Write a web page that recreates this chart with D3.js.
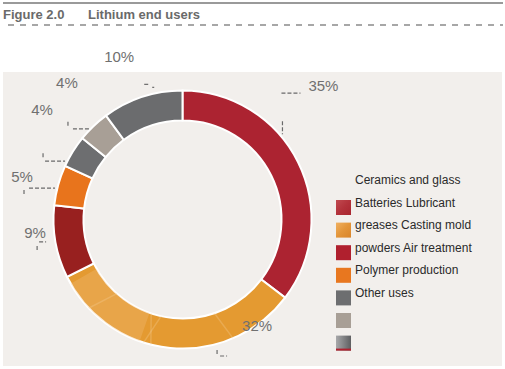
<!DOCTYPE html>
<html>
<head>
<meta charset="utf-8">
<script src="https://cdn.jsdelivr.net/npm/d3@7"></script>
<style>
  body { margin: 0; background: #fff; }
  text { font-family: "Liberation Sans", Arial, sans-serif; }
</style>
</head>
<body>
<svg id="chart" width="505" height="369"></svg>
<script>
// segments go clockwise from 12 o'clock
var segments = ["Air treatment", "Batteries", "Casting mold powders", "Polymer production", "Other uses", "Lubricant greases", "Ceramics and glass"];
var shares = [35, 32, 9, 5, 4, 4, 10];
var shareLabels = ["35%", "32%", "9%", "5%", "4%", "4%", "10%"];
var segColors = ["#ac2331", "#e49a31", "#98201f", "#e8741c", "#6d6e70", "#a89f96", "#6b6c6e"];

// legend text as printed (wrapped across rows)
var legendLines = ["Ceramics and glass", "Batteries Lubricant", "greases Casting mold", "powders Air treatment", "Polymer production", "Other uses"];
var legendSwatches = ["url(#swRed)", "url(#swOrange)", "#b0202e", "#e8771f", "#6d6e70", "#a89f96", "url(#swGray)"];

// where the percentage labels sit: [angle in degrees, radius]
var labelPolar = [[46.6, 194], [145, 130], [264.8, 148], [284.8, 166], [307.9, 178], [319.8, 179], [338.8, 175]];
// little dashed leader bits, relative to each label
var leaders = [
  [[[-42, 7], [-23, 7]], [[-41, 35], [-41, 48]]],
  [[[-40, 24], [-40, 29]], [[-37, 30], [-30, 30]]],
  [[[4, 9], [11, 9]], [[2, 13], [2, 19]]],
  [[[7, 11], [33, 11]], [[2, 13], [2, 19]]],
  [[[1, 43], [1, 48]], [[3, 51], [23, 51]]],
  [[[1, 39], [1, 44]], [[6, 46], [23, 46]]],
  [[[25, 28], [31, 28]], [[33, 31], [35, 31]]]
];

var svg = d3.select('#chart');
var cx = 182.5, cy = 219.5, outerR = 129, innerR = 99;

var defs = svg.append('defs');
var g1 = defs.append('linearGradient').attr('id', 'swRed').attr('x1', 0).attr('y1', 0).attr('x2', 1).attr('y2', 1);
g1.append('stop').attr('offset', 0).attr('stop-color', '#c04a50');
g1.append('stop').attr('offset', 0.5).attr('stop-color', '#b3323b');
g1.append('stop').attr('offset', 1).attr('stop-color', '#a8262f');
var g2 = defs.append('linearGradient').attr('id', 'swOrange').attr('x1', 0).attr('y1', 0).attr('x2', 1).attr('y2', 1);
g2.append('stop').attr('offset', 0).attr('stop-color', '#f0b060');
g2.append('stop').attr('offset', 0.5).attr('stop-color', '#e3953a');
g2.append('stop').attr('offset', 1).attr('stop-color', '#d9852a');
var g3 = defs.append('linearGradient').attr('id', 'swGray').attr('x1', 0).attr('y1', 0).attr('x2', 1).attr('y2', 0);
g3.append('stop').attr('offset', 0).attr('stop-color', '#a8a8aa');
g3.append('stop').attr('offset', 1).attr('stop-color', '#5e5f61');

// header
svg.append('line').attr('x1', 3).attr('x2', 503).attr('y1', 3).attr('y2', 3)
  .attr('stroke', '#9a9a9a').attr('stroke-width', 2);
svg.append('text').attr('x', 3).attr('y', 19).attr('font-size', 13).attr('font-weight', 'bold')
  .attr('fill', '#6a6a6a').text('Figure 2.0');
svg.append('text').attr('x', 88).attr('y', 19).attr('font-size', 13).attr('font-weight', 'bold')
  .attr('fill', '#6a6a6a').text('Lithium end users');
svg.append('line').attr('x1', 8).attr('x2', 503).attr('y1', 25).attr('y2', 25)
  .attr('stroke', '#8a8a8a').attr('stroke-width', 1.5).attr('stroke-dasharray', '6,6');

// panel
svg.append('rect').attr('x', 3).attr('y', 72).attr('width', 499).attr('height', 294).attr('fill', '#f2efec');

var pie = d3.pie().sort(null).value(function(d) { return d; });
var arcs = pie(shares);
var arc = d3.arc().innerRadius(innerR).outerRadius(outerR);

var donut = svg.append('g').attr('transform', 'translate(' + cx + ',' + cy + ')');
donut.selectAll('path.seg')
  .data(arcs)
  .enter()
  .append('path')
  .attr('class', 'seg')
  .attr('d', arc)
  .attr('fill', function(d, i) { return segColors[i]; })
  .attr('stroke', '#ffffff')
  .attr('stroke-width', 2);

// lighter facets in the orange segment
var b = arcs[1];
var streaks = [0.3, 0.55, 0.62, 0.8];
donut.append('clipPath').attr('id', 'orangeClip').append('path').attr('d', arc(b));
var sg = donut.append('g').attr('clip-path', 'url(#orangeClip)');
var patch = d3.arc().innerRadius(innerR).outerRadius(outerR)
  .startAngle(b.startAngle + (b.endAngle - b.startAngle) * 0.62)
  .endAngle(b.startAngle + (b.endAngle - b.startAngle) * 0.97);
sg.append('path').attr('d', patch()).attr('fill', '#f2c080').attr('opacity', 0.3);
streaks.forEach(function(t, k) {
  var a = b.startAngle + (b.endAngle - b.startAngle) * t;
  var p0 = d3.pointRadial(a, innerR - 5), p1 = d3.pointRadial(a + (k % 2 ? 0.12 : -0.1), outerR + 5);
  sg.append('line').attr('x1', p0[0]).attr('y1', p0[1]).attr('x2', p1[0]).attr('y2', p1[1])
    .attr('stroke', '#f6d29c').attr('stroke-opacity', 0.3).attr('stroke-width', 1.5);
});

// percentage labels
var labels = svg.append('g');
arcs.forEach(function(d, i) {
  var p = d3.pointRadial(labelPolar[i][0] * Math.PI / 180, labelPolar[i][1]);
  var lx = cx + p[0], ly = cy + p[1];
  labels.append('text').attr('x', lx).attr('y', ly).attr('dy', '0.35em')
    .attr('text-anchor', 'middle').attr('font-size', 15).attr('fill', '#707070')
    .text(shareLabels[i]);
  leaders[i].forEach(function(seg) {
    labels.append('line')
      .attr('x1', lx + seg[0][0]).attr('y1', ly + seg[0][1])
      .attr('x2', lx + seg[1][0]).attr('y2', ly + seg[1][1])
      .attr('stroke', '#6a6a6a').attr('stroke-width', 1.2).attr('stroke-dasharray', '4,2');
  });
});

// legend
var legendY = d3.scaleLinear().domain([0, 1]).range([200, 222.6]);
var legend = svg.append('g');
legend.selectAll('rect')
  .data(legendSwatches)
  .enter()
  .append('rect')
  .attr('x', 336).attr('y', function(d, i) { return legendY(i); })
  .attr('width', 15).attr('height', 15)
  .attr('fill', function(d) { return d; });
legend.append('rect').attr('x', 336).attr('y', legendY(6) + 13).attr('width', 15).attr('height', 2).attr('fill', '#b0202e');
legend.selectAll('text')
  .data(legendLines)
  .enter()
  .append('text')
  .attr('x', 355).attr('y', function(d, i) { return legendY(i) - 16; })
  .attr('font-size', 12).attr('fill', '#2a2a2a')
  .text(function(d) { return d; });
</script>
</body>
</html>
